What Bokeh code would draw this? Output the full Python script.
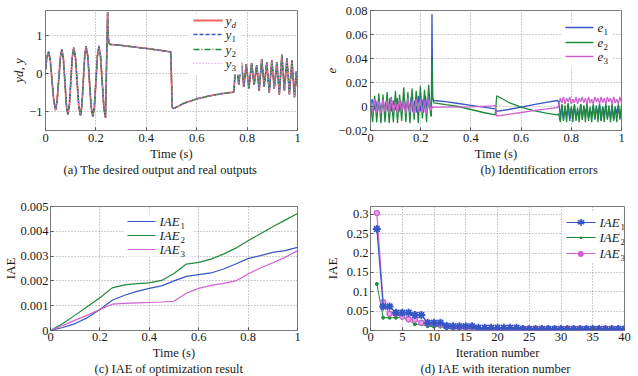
import numpy as np
from bokeh.plotting import figure
from bokeh.layouts import row, column
from bokeh.models import Range1d, FixedTicker, Label, Arrow, BoxAnnotation, Title
from bokeh.embed import file_html
from bokeh.resources import INLINE

FONT = "Liberation Serif"

# ---------------- (a) desired output and real outputs ----------------
a_t = [0.000, 0.005, 0.012, 0.019, 0.026, 0.033, 0.040, 0.046, 0.0525, 0.059, 0.065,
       0.071, 0.077, 0.083, 0.089, 0.095, 0.1005, 0.106, 0.112, 0.119, 0.1255, 0.132, 0.139,
       0.1445, 0.150, 0.1555, 0.161, 0.168, 0.1745, 0.181, 0.188, 0.194, 0.200, 0.206, 0.212,
       0.2185, 0.225, 0.2315, 0.238,
       0.2465, 0.249, 0.252, 0.256, 0.300, 0.400, 0.497,
       0.503, 0.510, 0.550, 0.600, 0.650, 0.700, 0.747,
       0.750, 0.753, 0.757,
       0.767, 0.777, 0.787, 0.797, 0.807, 0.818, 0.828, 0.838, 0.848, 0.858, 0.868, 0.878,
       0.888, 0.898, 0.908, 0.918, 0.928, 0.938, 0.948, 0.958, 0.968, 0.978, 0.988,
       0.995, 1.000]
a_yd = [0.10, 0.40, 0.58, 0.35, -0.19, -0.73, -0.96, -0.73, -0.16, 0.41, 0.64,
        0.39, -0.22, -0.83, -1.08, -0.82, -0.20, 0.42, 0.68, 0.42, -0.215, -0.85, -1.11,
        -0.84, -0.195, 0.45, 0.72, 0.45, -0.21, -0.87, -1.14, -0.87, -0.205, 0.46, 0.73,
        0.45, -0.22, -0.89, -1.17,
        1.62, 0.95, 0.80, 0.77, 0.74, 0.66, 0.57,
        -0.90, -0.92, -0.78, -0.67, -0.59, -0.53, -0.49,
        -0.22, 0.05, 0.33,
        -0.30, 0.30, -0.35, 0.25, -0.40, 0.28, -0.30, 0.22, -0.45, 0.38, -0.35, 0.30,
        -0.50, 0.35, -0.40, 0.30, -0.55, 0.50, -0.45, 0.40, -0.55, 0.35, -0.62,
        0.05, -0.35]
a_y1 = list(a_yd)
a_y2 = list(a_yd)
a_y3 = list(a_yd)
a_xticks = [0, 0.2, 0.4, 0.6, 0.8, 1]
a_xlabels = ["0", "0.2", "0.4", "0.6", "0.8", "1"]
a_yticks = [-1, 0, 1]
a_ylabels = ["\u22121", "0", "1"]

# ---------------- (b) identification errors ----------------
b1_lf = [0.002, 0.006, -0.003, 0.005, -0.004, 0.004, -0.005, 0.006, -0.003, 0.005, -0.004, 0.007,
         -0.004, 0.005, -0.003, 0.007, -0.005, 0.005, -0.004, 0.008, -0.005, 0.006, -0.004, 0.008,
         -0.005, 0.005, -0.005, 0.009, -0.004, 0.006, -0.005, 0.009, -0.004, 0.007, -0.005]
b1_mid_t = [0.2425, 0.245, 0.2475, 0.252, 0.300, 0.350, 0.400, 0.450, 0.497, 0.503, 0.550, 0.600, 0.650, 0.700, 0.745]
b1_mid = [-0.003, 0.077, 0.006, 0.005, 0.004, 0.0025, 0.001, -0.0005, -0.002, -0.004, -0.0025, -0.0005, 0.0015, 0.0035, 0.005]
b1_hf = [0.004, -0.009, 0.001, -0.011, -0.002, -0.008, 0.002, -0.012, -0.001, -0.007, 0.001, -0.010,
         -0.003, -0.009, 0.002, -0.011, 0.000, -0.006, 0.001, -0.010, -0.002, -0.008, 0.001, -0.011,
         -0.001, -0.007, 0.002, -0.012, 0.000, -0.008, 0.001, -0.010, -0.002, -0.009, 0.001, -0.011,
         0.000, -0.006, 0.001, -0.009, -0.002]

b2_lf = [0.005, -0.013, 0.009, -0.013, 0.011, -0.014, 0.010, -0.013, 0.012, -0.014, 0.008, -0.013,
         0.013, -0.014, 0.010, -0.012, 0.016, -0.013, 0.012, -0.014, 0.015, -0.011, 0.013, -0.014,
         0.017, -0.010, 0.014, -0.013, 0.018, -0.008]
b2_mid_t = [0.2425, 0.245, 0.2475, 0.252, 0.300, 0.350, 0.400, 0.450, 0.497, 0.503, 0.550, 0.600, 0.650, 0.700, 0.745]
b2_mid = [-0.008, 0.040, 0.008, 0.003, 0.0015, 0.0, -0.0025, -0.005, -0.007, 0.009, 0.0035, -0.0005, -0.0035, -0.0055, -0.007]
b2_hf = [-0.006, -0.013, 0.002, -0.012, 0.001, -0.013, 0.003, -0.010, 0.000, -0.013, 0.002, -0.012,
         -0.001, -0.013, 0.002, -0.011, 0.001, -0.013, 0.003, -0.012, 0.000, -0.013, 0.002, -0.010,
         0.001, -0.013, 0.002, -0.012, 0.000, -0.013, 0.003, -0.011, 0.001, -0.013, 0.002, -0.012,
         -0.001, -0.013, 0.002, -0.011, 0.001]

b3_lf = [0.005, -0.004, 0.006, -0.005, 0.004, -0.006, 0.006, -0.004, 0.005, -0.006, 0.007, -0.005,
         0.004, -0.006, 0.006, -0.004, 0.005, -0.006, 0.007, -0.005, 0.005, -0.006, 0.006, -0.004,
         0.006, -0.005, 0.005, -0.006, 0.006, -0.003]
b3_mid_t = [0.2425, 0.245, 0.2475, 0.252, 0.300, 0.400, 0.490, 0.497, 0.503, 0.550, 0.600, 0.650, 0.700, 0.745]
b3_mid = [-0.003, 0.000, -0.001, -0.0005, -0.0005, -0.0003, 0.0005, 0.001, -0.008, -0.0065, -0.005, -0.0035, -0.002, -0.001]
b3_hf = [0.001, 0.007, 0.003, 0.008, 0.002, 0.007, 0.004, 0.008, 0.002, 0.006, 0.003, 0.008,
         0.002, 0.007, 0.004, 0.008, 0.003, 0.007, 0.002, 0.008, 0.003, 0.006, 0.002, 0.008,
         0.004, 0.007, 0.002, 0.008, 0.003, 0.007, 0.002, 0.008, 0.004, 0.007, 0.002, 0.008,
         0.003, 0.006, 0.002, 0.008, 0.003]
b_xticks = [0, 0.2, 0.4, 0.6, 0.8, 1]
b_xlabels = ["0", "0.2", "0.4", "0.6", "0.8", "1"]
b_yticks = [-0.02, 0, 0.02, 0.04, 0.06, 0.08]
b_ylabels = ["\u22120.02", "0", "0.02", "0.04", "0.06", "0.08"]

# ---------------- (c) IAE of optimization result ----------------
c_t = [0, 0.05, 0.1, 0.15, 0.2, 0.25, 0.3, 0.35, 0.4, 0.45, 0.5, 0.55, 0.6, 0.65, 0.7, 0.75, 0.8, 0.85, 0.9, 0.95, 1.0]
c_iae1 = [0, 0.00012, 0.00028, 0.00052, 0.00085, 0.00122, 0.00142, 0.00158, 0.00170, 0.00180, 0.00200,
          0.00218, 0.00225, 0.00232, 0.00248, 0.00268, 0.00290, 0.00302, 0.00315, 0.00322, 0.00335]
c_iae2 = [0, 0.00028, 0.00062, 0.00097, 0.00132, 0.00172, 0.00184, 0.00189, 0.00192, 0.00202, 0.00230,
          0.00268, 0.00275, 0.00288, 0.00308, 0.00332, 0.00362, 0.00390, 0.00418, 0.00445, 0.00472]
c_iae3 = [0, 0.00020, 0.00042, 0.00062, 0.00085, 0.00106, 0.00109, 0.00111, 0.00113, 0.00115, 0.00118,
          0.00150, 0.00170, 0.00182, 0.00190, 0.00200, 0.00228, 0.00252, 0.00273, 0.00295, 0.00322]
c_xticks = [0, 0.2, 0.4, 0.6, 0.8, 1]
c_xlabels = ["0", "0.2", "0.4", "0.6", "0.8", "1"]
c_yticks = [0, 0.001, 0.002, 0.003, 0.004, 0.005]
c_ylabels = ["0", "0.001", "0.002", "0.003", "0.004", "0.005"]

# ---------------- (d) IAE with iteration number ----------------
d_iter = list(range(1, 41))
d_iae1 = [0.262, 0.062, 0.062, 0.046, 0.046, 0.046, 0.040, 0.040, 0.020, 0.020, 0.020, 0.012,
          0.011, 0.011, 0.011, 0.011, 0.007, 0.007, 0.007, 0.007, 0.007, 0.007, 0.007,
          0.004, 0.004, 0.004, 0.004, 0.004, 0.004, 0.004, 0.004, 0.004, 0.004, 0.004, 0.004,
          0.004, 0.004, 0.004, 0.004, 0.004]
d_iae2 = [0.120, 0.033, 0.033, 0.033, 0.033, 0.026, 0.016, 0.016, 0.011, 0.010, 0.010, 0.006,
          0.005, 0.005, 0.005, 0.005, 0.005, 0.005, 0.005, 0.005,
          0.004, 0.004, 0.004, 0.004, 0.004, 0.004, 0.004, 0.004, 0.004, 0.004,
          0.003, 0.003, 0.003, 0.003, 0.003, 0.003, 0.003, 0.003, 0.003, 0.003]
d_iae3 = [0.303, 0.073, 0.043, 0.043, 0.036, 0.029, 0.028, 0.020, 0.018, 0.018, 0.015, 0.012,
          0.010, 0.008, 0.008, 0.007, 0.005, 0.005, 0.005, 0.005, 0.005, 0.005, 0.005, 0.005,
          0.004, 0.004, 0.004, 0.004, 0.004, 0.004, 0.004, 0.004, 0.004, 0.004, 0.004, 0.004,
          0.004, 0.004, 0.004, 0.004]
d_xticks = [0, 5, 10, 15, 20, 25, 30, 35, 40]
d_xlabels = ["0", "5", "10", "15", "20", "25", "30", "35", "40"]
d_yticks = [0, 0.05, 0.1, 0.15, 0.2, 0.25, 0.3]
d_ylabels = ["0", "0.05", "0.1", "0.15", "0.2", "0.25", "0.3"]

# ---------------- styling helpers ----------------
RED = "#f2645a"
BLUE = "#3556c4"
GREEN = "#1d8a3c"
MAG = "#d060d0"
TXT = "#1a1a1a"
FS = "12.5px"


def base(xr, yr, left, right, top, bottom, xticks, xlabels, yticks, ylabels, xlabel, caption,
         cap_off, ylabel, ystyle="normal", ystand=0, lab_standoff=3):
    p = figure(width=319, height=188, x_range=Range1d(*xr), y_range=Range1d(*yr),
               output_backend="svg", toolbar_location=None,
               min_border_left=left, min_border_right=right,
               min_border_top=top, min_border_bottom=bottom)
    p.title = None
    p.background_fill_color = "white"
    p.border_fill_color = "white"
    p.outline_line_color = "#7a7a7a"
    p.outline_line_width = 1
    for ax in (p.xaxis[0], p.yaxis[0]):
        ax.axis_line_color = None
        ax.major_tick_in = 3
        ax.major_tick_out = 0
        ax.major_tick_line_color = "#555555"
        ax.minor_tick_line_color = None
        ax.major_label_text_font = FONT
        ax.major_label_text_font_size = FS
        ax.major_label_text_color = TXT
        ax.major_label_standoff = lab_standoff
    p.xaxis.ticker = FixedTicker(ticks=xticks)
    p.xaxis.major_label_overrides = dict(zip(xticks, xlabels))
    p.yaxis.ticker = FixedTicker(ticks=yticks)
    p.yaxis.major_label_overrides = dict(zip(yticks, ylabels))
    p.grid.grid_line_color = "#9a9a9a"
    p.grid.grid_line_dash = "1 2"
    p.grid.grid_line_width = 1
    p.add_layout(Title(text=xlabel, align="center", text_font=FONT, text_font_size=FS,
                       text_font_style="normal", text_color=TXT, standoff=0), "below")
    p.add_layout(Title(text=caption, align="left", offset=cap_off, text_font=FONT,
                       text_font_size=FS, text_font_style="normal", text_color=TXT,
                       standoff=0), "below")
    p.add_layout(Title(text=ylabel, align="center", text_font=FONT, text_font_size="13px",
                       text_font_style=ystyle, text_color=TXT, standoff=ystand), "left")
    return p


def leg_box(p, l, r, b, t):
    p.add_layout(BoxAnnotation(left=l, right=r, bottom=b, top=t,
                               left_units="screen", right_units="screen",
                               bottom_units="screen", top_units="screen",
                               fill_color="white", fill_alpha=1.0, line_color=None))


def leg_line(p, x0, x1, y, color, dash, width):
    p.add_layout(Arrow(end=None, x_start=x0, y_start=y, x_end=x1, y_end=y,
                       start_units="screen", end_units="screen",
                       line_color=color, line_dash=dash, line_width=width))


def leg_text(p, x, y, main, sub, main_w, sub_style="normal"):
    p.add_layout(Label(x=x, y=y, x_units="screen", y_units="screen", text=main,
                       text_font=FONT, text_font_style="italic", text_font_size="13px",
                       text_baseline="middle", text_align="left", text_color=TXT))
    p.add_layout(Label(x=x + main_w, y=y - 4, x_units="screen", y_units="screen", text=sub,
                       text_font=FONT, text_font_style=sub_style, text_font_size="9px",
                       text_baseline="middle", text_align="left", text_color=TXT))


# ---------------- panel (a) ----------------
pa = base((0, 1), (-1.5, 1.66), 45, 22, 10, 58, a_xticks, a_xlabels, a_yticks, a_ylabels,
          "Time (s)", "(a) The desired output and real outputs", 18, "yd, y", "italic", 2)
pa.line(a_t, a_yd, line_color=RED, line_width=1.8)
pa.line(a_t, a_y1, line_color=BLUE, line_width=1.3, line_dash="4 2")
pa.line(a_t, a_y2, line_color=GREEN, line_width=1.3, line_dash="6 2 1 2")
pa.line(a_t, a_y3, line_color="#e080e0", line_width=1.2, line_dash="1 2")
leg_box(pa, 143, 196, 56, 117)
for yy, col, dash, lw, sub in zip([110, 96, 81, 67], [RED, BLUE, GREEN, "#e080e0"],
                                  ["solid", "4 2", "6 2 1 2", "1 2"], [1.8, 1.3, 1.3, 1.2],
                                  ["d", "1", "2", "3"]):
    leg_line(pa, 148, 177, yy, col, dash, lw)
    leg_text(pa, 180, yy, "y", sub, 6, "italic" if sub == "d" else "normal")

# ---------------- panel (b) ----------------
pb = base((0, 1), (-0.02, 0.08), 51, 17, 7, 55, b_xticks, b_xlabels, b_yticks, b_ylabels,
          "Time (s)", "(b) Identification errors", 110, "e", "italic", 0)
e1_t = list(np.linspace(0, 0.24, len(b1_lf))) + b1_mid_t + list(np.linspace(0.75, 1.0, len(b1_hf)))
e2_t = list(np.linspace(0, 0.24, len(b2_lf))) + b2_mid_t + list(np.linspace(0.75, 1.0, len(b2_hf)))
e3_t = list(np.linspace(0, 0.24, len(b3_lf))) + b3_mid_t + list(np.linspace(0.75, 1.0, len(b3_hf)))
pb.line(e1_t, b1_lf + b1_mid + b1_hf, line_color=BLUE, line_width=1.3)
pb.line(e2_t, b2_lf + b2_mid + b2_hf, line_color=GREEN, line_width=1.3)
pb.line(e3_t, b3_lf + b3_mid + b3_hf, line_color=MAG, line_width=1.3)
leg_box(pb, 191, 242, 63, 108)
for yy, col, sub in zip([103, 88, 74], [BLUE, GREEN, MAG], ["1", "2", "3"]):
    leg_line(pb, 195, 223, yy, col, "solid", 1.3)
    leg_text(pb, 227, yy, "e", sub, 6)

# ---------------- panel (c) ----------------
pc = base((0, 1), (0, 0.005), 48, 22, 18, 46, c_xticks, c_xlabels, c_yticks, c_ylabels,
          "Time (s)", "(c) IAE of optimization result", 44, "IAE", "normal", 0, lab_standoff=2)
pc.line(c_t, c_iae1, line_color=BLUE, line_width=1.2)
pc.line(c_t, c_iae2, line_color=GREEN, line_width=1.2)
pc.line(c_t, c_iae3, line_color=MAG, line_width=1.2)
leg_box(pc, 74, 142, 74, 117)
for yy, col, sub in zip([109, 95, 81], [BLUE, GREEN, MAG], ["1", "2", "3"]):
    leg_line(pc, 77, 105, yy, col, "solid", 1.2)
    leg_text(pc, 109, yy, "IAE", sub, 21)

# ---------------- panel (d) ----------------
pd = base((0, 40), (0, 0.32), 51, 14, 13, 46, d_xticks, d_xlabels, d_yticks, d_ylabels,
          "Iteration number", "(d) IAE with iteration number", 50, "IAE", "normal", 7, lab_standoff=2)
pd.line(d_iter, d_iae2, line_color=GREEN, line_width=1.0)
pd.scatter(d_iter, d_iae2, marker="circle", size=3, fill_color=GREEN, line_color=GREEN)
pd.line(d_iter, d_iae3, line_color=MAG, line_width=1.2)
pd.scatter(d_iter, d_iae3, marker="circle", size=5, fill_color="#e8a8e8", line_color=MAG, line_width=1.3)
pd.line(d_iter, d_iae1, line_color=BLUE, line_width=1.2)
pd.scatter(d_iter, d_iae1, marker="asterisk", size=8, line_color=BLUE, line_width=1.8)
leg_box(pd, 192, 253, 68, 118)
for yy, col, sub, mk, ms in zip([108, 93, 77], [BLUE, GREEN, MAG], ["1", "2", "3"],
                                ["\u2731", "\u2022", "\u25cf"], ["10px", "9px", "8px"]):
    leg_line(pd, 196, 225, yy, col, "solid", 1.2)
    pd.add_layout(Label(x=210.5, y=yy, x_units="screen", y_units="screen", text=mk,
                        text_font="DejaVu Sans", text_font_size=ms, text_color=col,
                        text_align="center", text_baseline="middle"))
    leg_text(pd, 229, yy, "IAE", sub, 21)

layout = column(row(pa, pb), row(pc, pd))
open("out.html", "w").write(file_html(layout, INLINE))
